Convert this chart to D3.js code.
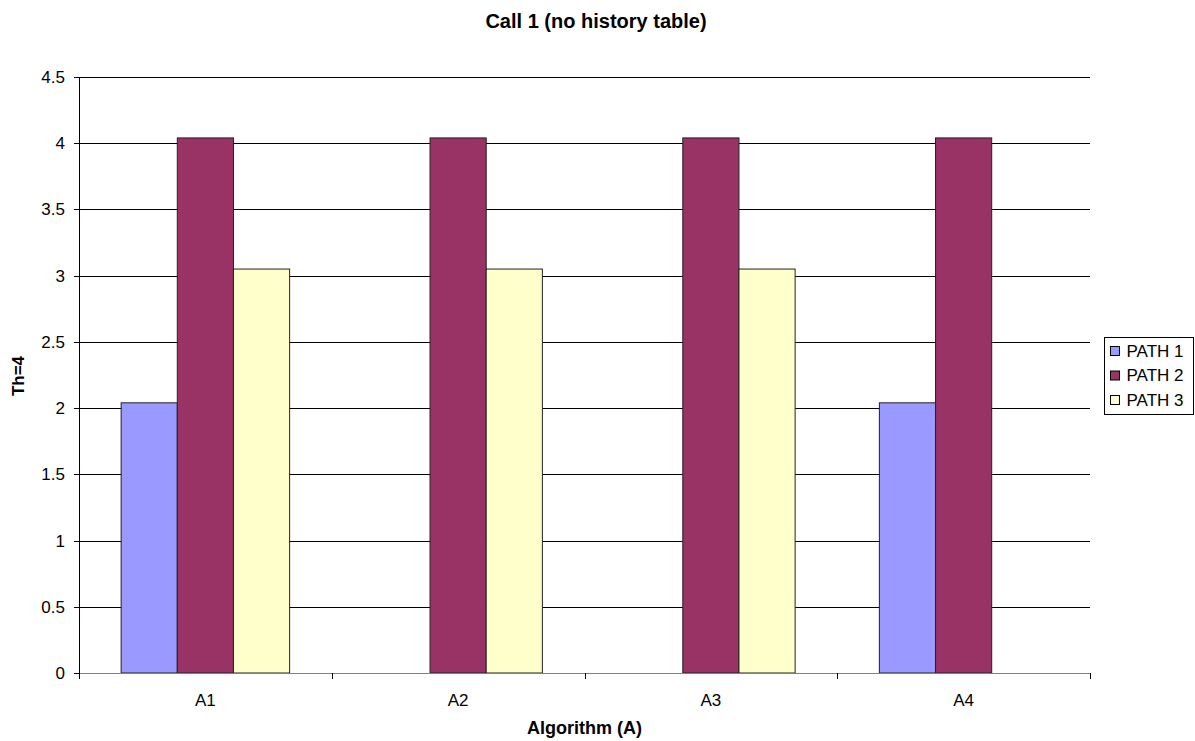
<!DOCTYPE html>
<html>
<head>
<meta charset="utf-8">
<script src="https://cdn.jsdelivr.net/npm/d3@7"></script>
<style>
  body { margin: 0; background: #fff; }
  text { font-family: "Liberation Sans", Arial, sans-serif; fill: #000; }
</style>
</head>
<body>
<div id="chart"></div>
<script>
// chart values
const categories = ['A1', 'A2', 'A3', 'A4'];
const seriesNames = ['PATH 1', 'PATH 2', 'PATH 3'];
const path1 = [2.04, 0, 0, 2.04];
const path2 = [4.04, 4.04, 4.04, 4.04];
const path3 = [3.05, 3.05, 3.05, 0];
const yTicks = [0, 0.5, 1, 1.5, 2, 2.5, 3, 3.5, 4, 4.5];
const colors = ['#9999FF', '#993366', '#FFFFCC'];

const seriesValues = [path1, path2, path3];

const W = 1195, H = 741;
const margin = { top: 77, right: 105, bottom: 68, left: 79 };
const width = W - margin.left - margin.right;
const height = H - margin.top - margin.bottom;

const svg = d3.select('#chart').append('svg')
  .attr('width', W)
  .attr('height', H);

const g = svg.append('g')
  .attr('transform', `translate(${margin.left},${margin.top})`);

const x = d3.scaleBand().domain(categories).range([0, width]);
// excel gap width 150%: bar = band / 4.5
const barW = x.bandwidth() / 4.5;
const x1 = d3.scaleBand().domain(seriesNames)
  .range([barW * 0.75, barW * 3.75]);

const y = d3.scaleLinear().domain([0, 4.5]).range([height, 0]);

// gridlines
g.selectAll('.grid')
  .data(yTicks.filter(d => d > 0))
  .enter().append('line')
  .attr('x1', 0).attr('x2', width)
  .attr('y1', d => Math.round(y(d)) + 0.5)
  .attr('y2', d => Math.round(y(d)) + 0.5)
  .attr('stroke', '#000')
  .attr('stroke-width', 1);

// bars
const groups = g.selectAll('.cat')
  .data(categories)
  .enter().append('g')
  .attr('transform', d => `translate(${x(d)},0)`);

groups.selectAll('rect')
  .data((c, i) => seriesNames.map((s, j) => ({ s, v: seriesValues[j][i], j })))
  .enter().append('rect')
  .filter(d => d.v > 0)
  .attr('x', d => x1(d.s))
  .attr('width', x1.bandwidth())
  .attr('y', d => y(d.v))
  .attr('height', d => height - y(d.v))
  .attr('fill', d => colors[d.j])
  .attr('stroke', '#222')
  .attr('stroke-width', 1);

// y axis
g.append('line')
  .attr('x1', 0.5).attr('x2', 0.5)
  .attr('y1', 0).attr('y2', height)
  .attr('stroke', '#000');

g.selectAll('.ytick')
  .data(yTicks)
  .enter().append('line')
  .attr('x1', -5).attr('x2', 0)
  .attr('y1', d => Math.round(y(d)) + 0.5)
  .attr('y2', d => Math.round(y(d)) + 0.5)
  .attr('stroke', '#000');

g.selectAll('.ylab')
  .data(yTicks)
  .enter().append('text')
  .attr('x', -14)
  .attr('y', d => y(d))
  .attr('dy', '0.35em')
  .attr('text-anchor', 'end')
  .style('font-size', '17px')
  .text(d => d);

// x axis
g.append('line')
  .attr('x1', 0).attr('x2', width)
  .attr('y1', height + 0.5).attr('y2', height + 0.5)
  .attr('stroke', '#808080');

const bounds = categories.map(c => x(c)).concat([width]);
g.selectAll('.xtick')
  .data(bounds)
  .enter().append('line')
  .attr('x1', d => Math.round(d) + 0.5).attr('x2', d => Math.round(d) + 0.5)
  .attr('y1', height).attr('y2', height + 6)
  .attr('stroke', '#000');

g.selectAll('.xlab')
  .data(categories)
  .enter().append('text')
  .attr('x', d => x(d) + x.bandwidth() / 2)
  .attr('y', height + 33)
  .attr('text-anchor', 'middle')
  .style('font-size', '17px')
  .text(d => d);

// titles
svg.append('text')
  .attr('x', 596).attr('y', 28)
  .attr('text-anchor', 'middle')
  .style('font-size', '20px')
  .style('font-weight', 'bold')
  .text('Call 1 (no history table)');

svg.append('text')
  .attr('x', margin.left + width / 2).attr('y', 734)
  .attr('text-anchor', 'middle')
  .style('font-size', '18px')
  .style('font-weight', 'bold')
  .text('Algorithm (A)');

svg.append('text')
  .attr('transform', 'translate(24,376) rotate(-90)')
  .attr('text-anchor', 'middle')
  .style('font-size', '17px')
  .style('font-weight', 'bold')
  .text('Th=4');

// legend
const legend = svg.append('g').attr('transform', 'translate(1104.5,337.5)');
legend.append('rect')
  .attr('width', 89).attr('height', 77)
  .attr('fill', '#fff').attr('stroke', '#000');

const items = legend.selectAll('.item')
  .data(seriesNames)
  .enter().append('g')
  .attr('transform', (d, i) => `translate(0,${13.5 + i * 24.5})`);

items.append('rect')
  .attr('x', 6).attr('y', -4.5)
  .attr('width', 9).attr('height', 9)
  .attr('fill', (d, i) => colors[i])
  .attr('stroke', '#000');

items.append('text')
  .attr('x', 22).attr('y', 0)
  .attr('dy', '0.35em')
  .style('font-size', '17px')
  .text(d => d);
</script>
</body>
</html>
